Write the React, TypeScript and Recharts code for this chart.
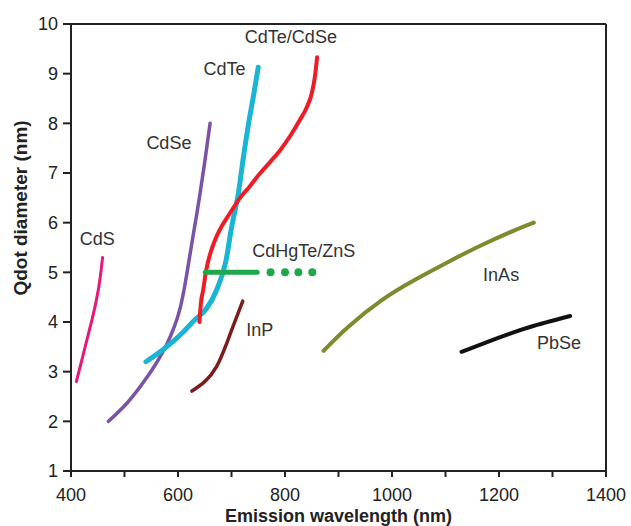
import React from 'react';
import {
  ComposedChart,
  Line,
  Scatter,
  XAxis,
  YAxis,
  Label,
  ReferenceLine,
} from 'recharts';

type Pt = { x: number; y: number };

// series (x = emission wavelength nm, y = diameter nm)
const cds: Pt[] = [
  { x: 410, y: 2.8 }, { x: 420, y: 3.22 }, { x: 430, y: 3.65 },
  { x: 440, y: 4.08 }, { x: 448, y: 4.47 }, { x: 454, y: 4.85 },
  { x: 459, y: 5.3 },
];
const cdse: Pt[] = [
  { x: 470, y: 2.0 }, { x: 505, y: 2.37 }, { x: 535, y: 2.78 },
  { x: 560, y: 3.18 }, { x: 579, y: 3.55 }, { x: 593, y: 3.9 },
  { x: 604, y: 4.28 }, { x: 613, y: 4.75 }, { x: 620, y: 5.2 },
  { x: 630, y: 5.85 }, { x: 640, y: 6.5 }, { x: 650, y: 7.22 },
  { x: 660, y: 8.0 },
];
const cdte: Pt[] = [
  { x: 540, y: 3.2 }, { x: 573, y: 3.45 }, { x: 610, y: 3.8 },
  { x: 632, y: 4.05 }, { x: 652, y: 4.25 }, { x: 672, y: 4.64 },
  { x: 690, y: 5.25 }, { x: 700, y: 5.9 }, { x: 713, y: 6.6 },
  { x: 722, y: 7.3 }, { x: 732, y: 8.0 }, { x: 741, y: 8.55 },
  { x: 750, y: 9.13 },
];
const cdteCdse: Pt[] = [
  { x: 640, y: 4.0 }, { x: 643, y: 4.4 }, { x: 647, y: 4.64 },
  { x: 652, y: 5.0 }, { x: 657, y: 5.25 }, { x: 664, y: 5.5 },
  { x: 672, y: 5.72 }, { x: 684, y: 5.97 }, { x: 697, y: 6.19 },
  { x: 716, y: 6.5 }, { x: 734, y: 6.73 }, { x: 753, y: 6.99 },
  { x: 772, y: 7.22 }, { x: 791, y: 7.46 }, { x: 810, y: 7.75 },
  { x: 828, y: 8.07 }, { x: 841, y: 8.33 }, { x: 850, y: 8.6 },
  { x: 856, y: 8.95 }, { x: 860, y: 9.33 },
];
const cdhgteSolid: Pt[] = [{ x: 651, y: 5.0 }, { x: 748, y: 5.0 }];
const cdhgteDots: Pt[] = [
  { x: 773, y: 5.0 }, { x: 800, y: 5.0 }, { x: 825, y: 5.0 }, { x: 851, y: 5.0 },
];
const inp: Pt[] = [
  { x: 626, y: 2.61 }, { x: 650, y: 2.8 }, { x: 672, y: 3.1 },
  { x: 691, y: 3.57 }, { x: 706, y: 4.0 }, { x: 721, y: 4.42 },
];
const inas: Pt[] = [
  { x: 872, y: 3.42 }, { x: 918, y: 3.9 }, { x: 981, y: 4.44 },
  { x: 1043, y: 4.85 }, { x: 1105, y: 5.21 }, { x: 1168, y: 5.55 },
  { x: 1230, y: 5.85 }, { x: 1265, y: 6.0 },
];
const pbse: Pt[] = [
  { x: 1130, y: 3.4 }, { x: 1196, y: 3.67 }, { x: 1258, y: 3.9 }, { x: 1333, y: 4.12 },
];

const seriesLabels = [
  { x: 811, y: 9.75, name: 'CdTe/CdSe' },
  { x: 687, y: 9.1, name: 'CdTe' },
  { x: 583, y: 7.61, name: 'CdSe' },
  { x: 449, y: 5.68, name: 'CdS' },
  { x: 835, y: 5.43, name: 'CdHgTe/ZnS' },
  { x: 753, y: 3.84, name: 'InP' },
  { x: 1204, y: 4.96, name: 'InAs' },
  { x: 1312, y: 3.58, name: 'PbSe' },
];

const xTicks = [400, 500, 600, 700, 800, 900, 1000, 1100, 1200, 1300, 1400];
const yTicks = [1, 2, 3, 4, 5, 6, 7, 8, 9, 10];

const FONT = '"Liberation Sans", Arial, Helvetica, sans-serif';
const AXIS = '#222';

const lines: { data: Pt[]; color: string; width: number; curve: 'natural' | 'monotone' }[] = [
  { data: cds, color: '#e6187a', width: 3, curve: 'natural' },
  { data: cdse, color: '#7a52a8', width: 3.5, curve: 'natural' },
  { data: inp, color: '#7d1c1c', width: 3.5, curve: 'natural' },
  { data: cdte, color: '#1ab4d4', width: 5, curve: 'monotone' },
  { data: cdteCdse, color: '#ee1c24', width: 4, curve: 'monotone' },
  { data: cdhgteSolid, color: '#1ea84c', width: 5, curve: 'monotone' },
  { data: inas, color: '#7f8a2c', width: 4, curve: 'natural' },
  { data: pbse, color: '#111111', width: 4, curve: 'natural' },
];

const SeriesName = (props: any) => {
  const { cx, cy, payload } = props;
  return (
    <text
      x={cx}
      y={cy}
      dy="0.36em"
      textAnchor="middle"
      fontSize={18}
      fontFamily={FONT}
      fill="#333"
    >
      {payload.name}
    </text>
  );
};

const YTitle = (props: any) => {
  const vb = props.viewBox || { x: 0, y: 24, height: 447 };
  const x = vb.x + 27;
  const y = vb.y + 184;
  return (
    <text
      x={x}
      y={y}
      transform={`rotate(-90 ${x} ${y})`}
      textAnchor="middle"
      fontSize={19}
      fontWeight="bold"
      fontFamily={FONT}
      fill={AXIS}
    >
      Qdot diameter (nm)
    </text>
  );
};

export default function App() {
  return (
    <div
      style={{
        position: 'absolute',
        left: 0,
        top: 0,
        width: 631,
        height: 526,
        background: '#fff',
        fontFamily: FONT,
      }}
    >
      <ComposedChart
        width={631}
        height={526}
        margin={{ top: 24, right: 25, bottom: 0, left: 0 }}
      >
        <XAxis
          dataKey="x"
          type="number"
          domain={[400, 1400]}
          ticks={xTicks}
          allowDataOverflow
          tickFormatter={(v: number) => (v % 200 === 0 ? String(v) : '')}
          height={55}
          tickSize={6}
          tickMargin={11}
          axisLine={{ stroke: AXIS, strokeWidth: 2 }}
          tickLine={{ stroke: AXIS, strokeWidth: 2 }}
          tick={{ fontSize: 18, fill: AXIS, fontFamily: FONT }}
        >
          <Label
            value="Emission wavelength (nm)"
            position="insideBottom"
            offset={4}
            fontSize={18}
            fontWeight="bold"
            fontFamily={FONT}
            fill={AXIS}
          />
        </XAxis>
        <YAxis
          dataKey="y"
          type="number"
          domain={[1, 10]}
          ticks={yTicks}
          allowDataOverflow
          width={71}
          tickSize={8}
          tickMargin={5}
          axisLine={{ stroke: AXIS, strokeWidth: 2 }}
          tickLine={{ stroke: AXIS, strokeWidth: 2 }}
          tick={{ fontSize: 18, fill: AXIS, fontFamily: FONT }}
        >
          <Label content={YTitle} />
        </YAxis>

        <ReferenceLine y={10} stroke={AXIS} strokeWidth={2} />
        <ReferenceLine x={1400} stroke={AXIS} strokeWidth={2} />

        {lines.map((s, i) => (
          <Line
            key={`line-${i}`}
            data={s.data}
            dataKey="y"
            type={s.curve}
            stroke={s.color}
            strokeWidth={s.width}
            strokeLinecap="round"
            strokeLinejoin="round"
            dot={false}
            activeDot={false}
            isAnimationActive={false}
          />
        ))}

        {/* dotted tail of CdHgTe/ZnS */}
        <Line
          data={cdhgteDots}
          dataKey="y"
          stroke="none"
          dot={{ r: 4, fill: '#1ea84c', stroke: 'none' }}
          activeDot={false}
          isAnimationActive={false}
        />

        <Scatter
          data={seriesLabels}
          dataKey="y"
          shape={SeriesName}
          isAnimationActive={false}
        />
      </ComposedChart>
    </div>
  );
}
